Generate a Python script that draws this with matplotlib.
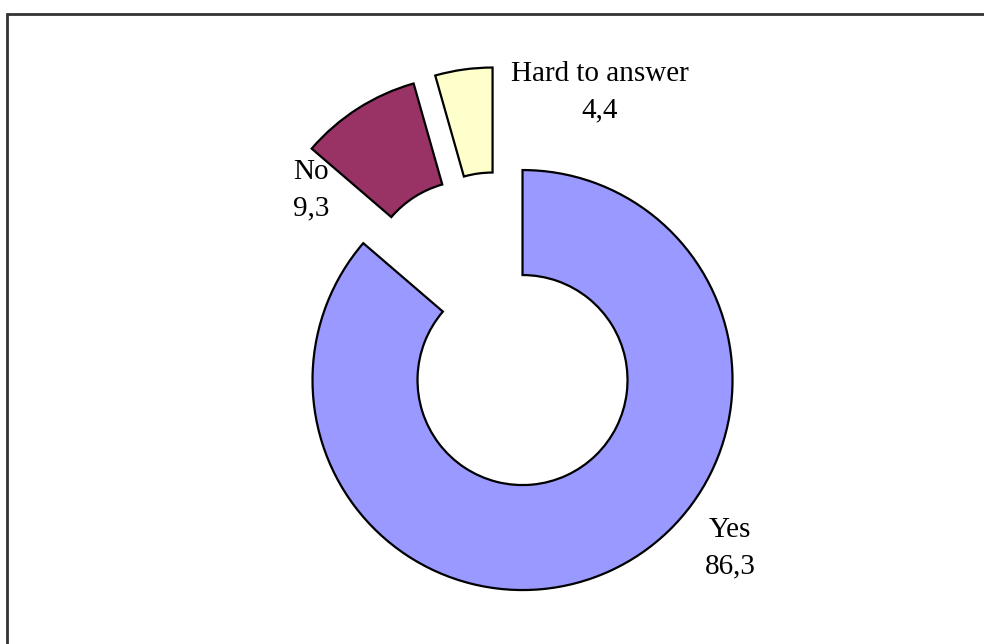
import numpy as np
import matplotlib

matplotlib.use("Agg")
import matplotlib.pyplot as plt
from matplotlib.patches import Rectangle

labels = ["Yes", "No", "Hard to answer"]
values = [86.3, 9.3, 4.4]
colors = ["#9999FF", "#993366", "#FFFFCC"]

# label anchor points in pixels (x from left, y from top)
label_px = [(730, 548), (311, 190), (600, 92)]

W, H = 984, 644
R = 210.0               # outer radius in px
CX, CY = 500, 331       # pie centre in px (from top)

plt.rcParams["font.family"] = ["Liberation Serif", "DejaVu Serif"]

fig = plt.figure(figsize=(W / 100, H / 100), dpi=100)
ax = fig.add_axes([0, 0, 1, 1])

ax.pie(values, colors=colors, startangle=90, counterclock=False,
       explode=[0.257] * len(values), radius=1.0,
       wedgeprops=dict(width=0.5, edgecolor="black", linewidth=1.6))
ax.set_xlim(-CX / R, (W - CX) / R)
ax.set_ylim(-(H - CY) / R, CY / R)
ax.set_aspect("equal")
ax.axis("off")


def px(x, y):
    return (x - CX) / R, (CY - y) / R


for lab, val, (x, y) in zip(labels, values, label_px):
    tx, ty = px(x, y)
    ax.text(tx, ty, f"{lab}\n{val:.1f}".replace(".", ","), ha="center",
            va="center", fontsize=21, linespacing=1.5)

# frame around the chart area (right and bottom sides fall outside)
fig.patches.append(Rectangle((7 / W, -0.1), 1.1, 1 - 14 / H + 0.1,
                             transform=fig.transFigure, fill=False,
                             edgecolor="#333333", linewidth=2))

fig.savefig("out.png", dpi=100)
